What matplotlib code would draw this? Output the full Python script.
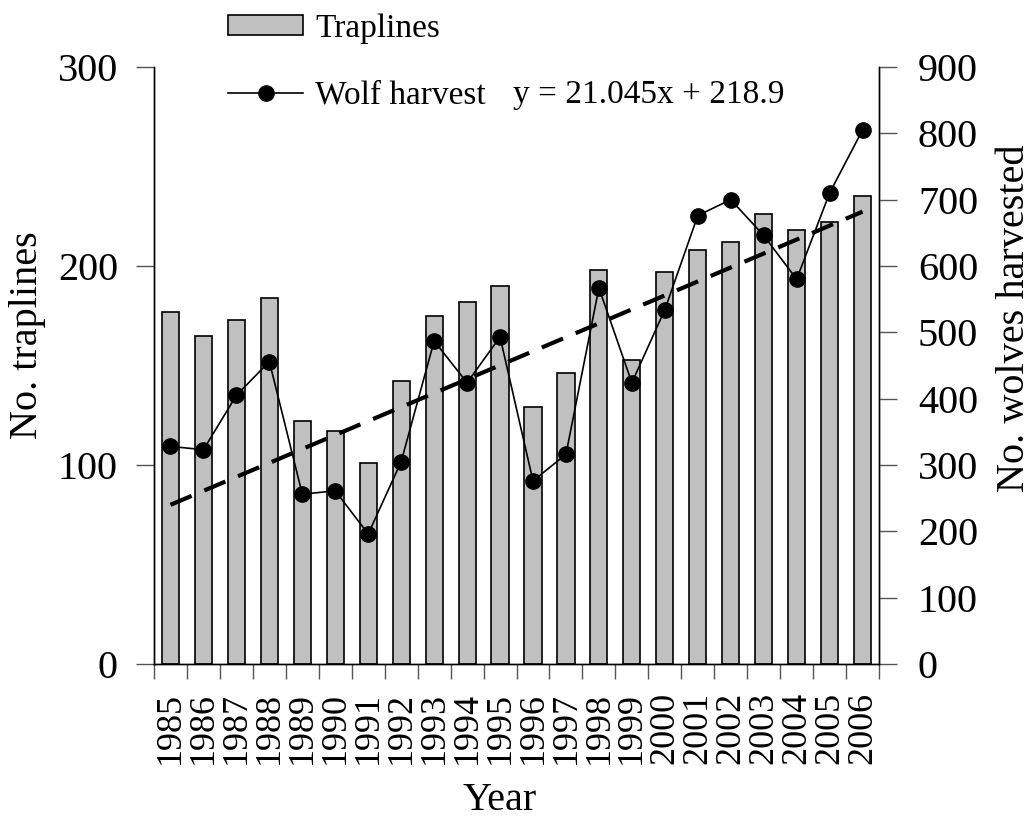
import numpy as np
import matplotlib
matplotlib.use('Agg')
from matplotlib import pyplot as plt
from matplotlib.patches import Patch
from matplotlib.lines import Line2D

plt.rcParams['font.family'] = 'Liberation Serif'

years = [str(y) for y in range(1985, 2007)]
traplines = [177, 165, 173, 184, 122, 117, 101, 142, 175, 182, 190,
             129, 146, 198, 153, 197, 208, 212, 226, 218, 222, 235]
wolves = [328, 323, 405, 456, 256, 261, 196, 305, 487, 424, 493,
          276, 316, 567, 424, 534, 676, 700, 646, 580, 710, 805]
# trend line as printed on the chart, x = 1..22
slope, intercept = 21.045, 218.9

W, H = 1035, 824
fig = plt.figure(figsize=(W / 100, H / 100), dpi=100)
ax = fig.add_axes([0.1488, 0.1942, 0.7005, 0.7245])
ax2 = ax.twinx()

x = np.arange(len(years))
ax.bar(x, traplines, width=0.52, color='#C0C0C0', edgecolor='black', linewidth=1.2)

ax2.plot(x, wolves, color='black', linewidth=1.2, marker='o', markersize=11)
xt = np.array([1, len(years)])
ax2.plot(xt - 1, slope * xt + intercept, color='black', linewidth=3,
         dashes=(5.5, 3.3))

ax.set_xlim(-0.5, len(years) - 0.5)
ax.set_ylim(0, 300)
ax2.set_ylim(0, 900)
ax.set_yticks([0, 100, 200, 300])
ax2.set_yticks(range(0, 1000, 100))

# ticks between bars, labels under bars
ax.set_xticks(np.arange(-0.5, len(years)), labels=[])
ax.set_xticks(x, labels=years, minor=True, rotation=90)
ax.tick_params(axis='x', which='major', direction='out', length=11, width=1, color='#555555')
ax.tick_params(axis='x', which='minor', length=0, pad=20, labelsize=26)
ax.tick_params(axis='y', direction='out', length=13, width=1, color='#555555', pad=13, labelsize=29)
ax2.tick_params(axis='y', direction='out', length=13, width=1, color='#555555', pad=15, labelsize=29)

for a in (ax, ax2):
    a.spines['top'].set_visible(False)
    for s in a.spines.values():
        s.set_linewidth(1)

# axis titles placed by centre
fig.text(28 / W, 1 - 335 / H, 'No. traplines', fontsize=29, rotation=90, ha='center', va='center')
fig.text(1015 / W, 1 - 318 / H, 'No. wolves harvested', fontsize=29, rotation=90, ha='center', va='center')
fig.text(500 / W, 1 - 801 / H, 'Year', fontsize=29, ha='center', va='center')

handles = [Patch(facecolor='#C0C0C0', edgecolor='black', linewidth=1.2),
           Line2D([], [], color='black', linewidth=1.2, marker='o', markersize=11)]
fig.legend(handles, ['Traplines', 'Wolf harvest'], loc='upper left',
           bbox_to_anchor=(228 / W, 1 - 13 / H), frameon=False, fontsize=24,
           borderpad=0, borderaxespad=0,
           handlelength=2.25, handleheight=0.55, handletextpad=0.36, labelspacing=1.1)
fig.text(513 / W, 1 - 95 / H, 'y = 21.045x + 218.9', fontsize=24, va='center')

fig.savefig('out.png', dpi=100)
